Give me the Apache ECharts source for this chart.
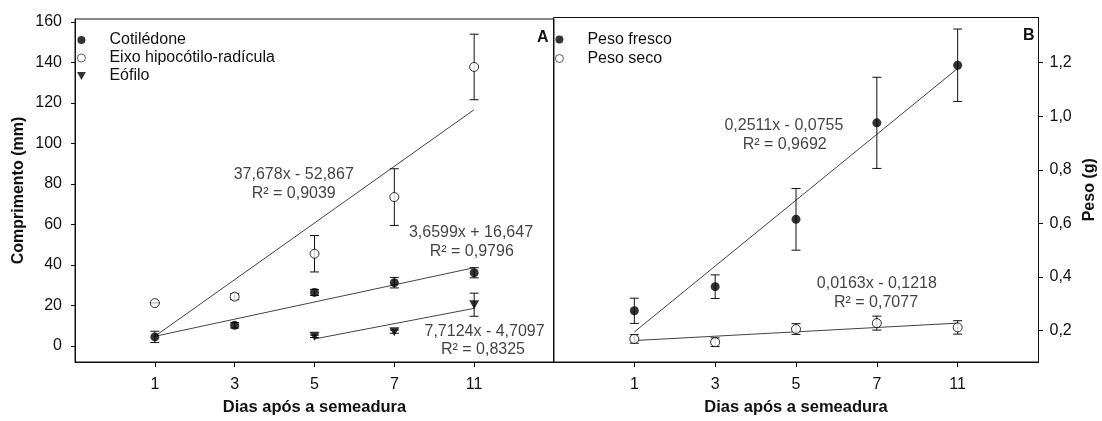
<!DOCTYPE html>
<html>
<head>
<meta charset="utf-8">
<script src="https://cdn.jsdelivr.net/npm/echarts@6/dist/echarts.min.js"></script>
<style>
html,body{margin:0;padding:0;background:#fff;}
#chart{width:1102px;height:421px;}
</style>
</head>
<body>
<div id="chart"></div>
<script>
// ---- data ----
const days = ['1', '3', '5', '7', '11'];
const yTicksA = [0, 20, 40, 60, 80, 100, 120, 140, 160];
const yTicksB = [0.2, 0.4, 0.6, 0.8, 1.0, 1.2];

// Panel A: Comprimento (mm)
const cotiledone = [4.4, 10.1, 26.4, 31.2, 36.1];
const cotiledoneErr = [2.8, 1.3, 1.5, 2.6, 2.5];
const eixo = [21.1, 24.3, 45.5, 73.5, 137.8];
const eixoErr = [0.3, 1.5, 9.0, 14.0, 16.2];
const eofilo = [null, null, 4.7, 7.0, 20.3];
const eofiloErr = [null, null, 0.6, 0.8, 5.7];
const trendEixo = [[0, 4.7], [4, 116.7]];
const trendCot = [[0, 4.7], [4, 38.6]];
const trendEof = [[2, 3.4], [4, 18.5]];

// Panel B: Peso (g)
const pesoFresco = [0.274, 0.364, 0.615, 0.975, 1.19];
const pesoFrescoErr = [0.047, 0.044, 0.115, 0.17, 0.135];
const pesoSeco = [0.169, 0.157, 0.206, 0.228, 0.212];
const pesoSecoErr = [0.016, 0.016, 0.02, 0.026, 0.025];
const trendFresco = [[0, 0.195], [4, 1.178]];
const trendSeco = [[0, 0.163], [4, 0.228]];

// Equation annotations [x index, y value, text]
const annotA = [
  [1.74, 84.5, '37,678x - 52,867'],
  [1.74, 75.4, 'R² = 0,9039'],
  [3.96, 56.0, '3,6599x + 16,647'],
  [3.97, 46.8, 'R² = 0,9796'],
  [4.13, 7.2, '7,7124x - 4,7097'],
  [4.11, -1.8, 'R² = 0,8325']
];
const annotB = [
  [1.85, 0.963, '0,2511x - 0,0755'],
  [1.86, 0.893, 'R² = 0,9692'],
  [3.0, 0.375, '0,0163x - 0,1218'],
  [2.99, 0.305, 'R² = 0,7077']
];

// ---- chart ----
const FONT = "'Liberation Sans', Arial, sans-serif";
const chart = echarts.init(document.getElementById('chart'), null, {renderer: 'canvas'});

function pts(values) {
  return values.map((v, i) => v == null ? null : [i, v]).filter(d => d);
}
function errData(values, errs) {
  return values.map((v, i) => v == null ? null : [i, v - errs[i], v + errs[i]]).filter(d => d);
}
function errSeries(xi, yi, values, errs) {
  return {
    type: 'custom', xAxisIndex: xi, yAxisIndex: yi, z: 3, silent: true,
    data: errData(values, errs),
    renderItem: function (params, api) {
      const x = api.value(0);
      const lo = api.coord([x, api.value(1)]);
      const hi = api.coord([x, api.value(2)]);
      const hw = 4.5;
      const st = {stroke: '#111', lineWidth: 1};
      return {type: 'group', children: [
        {type: 'line', shape: {x1: lo[0], y1: lo[1], x2: hi[0], y2: hi[1]}, style: st},
        {type: 'line', shape: {x1: lo[0] - hw, y1: lo[1], x2: lo[0] + hw, y2: lo[1]}, style: st},
        {type: 'line', shape: {x1: hi[0] - hw, y1: hi[1], x2: hi[0] + hw, y2: hi[1]}, style: st}
      ]};
    }
  };
}
function trendSeries(xi, yi, data) {
  return {type: 'line', xAxisIndex: xi, yAxisIndex: yi, data: data, showSymbol: false, symbol: 'none',
    silent: true, z: 2, lineStyle: {color: '#444', width: 1}};
}
function annotSeries(xi, yi, data) {
  return {type: 'scatter', xAxisIndex: xi, yAxisIndex: yi, data: data, symbolSize: 0, silent: true, z: 5,
    label: {show: true, position: 'inside', formatter: p => p.value[2], color: '#111',
      fontSize: 16, fontFamily: FONT}};
}
const xLabelFmt = v => days[Math.round(v)];
function xAxisCfg(gi) {
  return {
    gridIndex: gi, type: 'value', min: -1, max: 5,
    name: 'Dias após a semeadura', nameLocation: 'middle', nameGap: 37,
    nameTextStyle: {fontFamily: FONT, fontSize: 16.5, fontWeight: 'bold', color: '#111'},
    axisLine: {show: true, onZero: false, lineStyle: {color: '#111', width: 1}},
    axisTick: {show: true, length: 5, customValues: [0, 1, 2, 3, 4], lineStyle: {color: '#111'}},
    axisLabel: {customValues: [0, 1, 2, 3, 4], formatter: xLabelFmt, margin: 15,
      fontFamily: FONT, fontSize: 16, color: '#111'},
    splitLine: {show: false}
  };
}

const option = {
  animation: false,
  backgroundColor: '#fff',
  title: [
    {text: 'A', left: 532, top: 25, textStyle: {fontFamily: FONT, fontSize: 16, fontWeight: 'bold', color: '#111'}},
    {text: 'B', left: 1018, top: 23, textStyle: {fontFamily: FONT, fontSize: 16, fontWeight: 'bold', color: '#111'}}
  ],
  legend: [
    {left: 72, top: 26, orient: 'vertical', itemWidth: 46, itemHeight: 8, itemGap: 0, selectedMode: false,
      textStyle: {fontFamily: FONT, fontSize: 16, color: '#111', lineHeight: 18},
      data: [
        {name: 'Cotilédone', icon: 'circle'},
        {name: 'Eixo hipocótilo-radícula', icon: 'circle', itemStyle: {borderWidth: 0.8}},
        {name: 'Eófilo', icon: 'path://M0,0 L10,0 L5,9 Z'}
      ]},
    {left: 550, top: 25.5, orient: 'vertical', itemWidth: 46, itemHeight: 8, itemGap: 1, selectedMode: false,
      textStyle: {fontFamily: FONT, fontSize: 16, color: '#111', lineHeight: 18},
      data: [
        {name: 'Peso fresco', icon: 'circle'},
        {name: 'Peso seco', icon: 'circle', itemStyle: {borderWidth: 0.8}}
      ]}
  ],
  grid: [
    {left: 75, top: 19, width: 479, height: 346, show: true, borderColor: '#111', borderWidth: 1, backgroundColor: 'transparent'},
    {left: 553.5, top: 17.5, width: 485, height: 347, show: true, borderColor: '#111', borderWidth: 1, backgroundColor: 'transparent'}
  ],
  xAxis: [xAxisCfg(0), xAxisCfg(1)],
  yAxis: [
    {gridIndex: 0, type: 'value', min: -8, max: 161.5, position: 'left',
      name: 'Comprimento (mm)', nameLocation: 'middle', nameGap: 48,
      nameTextStyle: {fontFamily: FONT, fontSize: 16, fontWeight: 'bold', color: '#111'},
      axisLine: {show: true, onZero: false, lineStyle: {color: '#111'}},
      axisTick: {show: true, length: 4, customValues: yTicksA, lineStyle: {color: '#111'}},
      axisLabel: {customValues: yTicksA, margin: 13, fontFamily: FONT, fontSize: 16, color: '#111'},
      splitLine: {show: false}},
    {gridIndex: 1, type: 'value', min: 0.083, max: 1.368, position: 'right',
      name: 'Peso (g)', nameLocation: 'middle', nameGap: 43,
      nameTextStyle: {fontFamily: FONT, fontSize: 16, fontWeight: 'bold', color: '#111'},
      axisLine: {show: true, onZero: false, lineStyle: {color: '#111'}},
      axisTick: {show: true, length: 4.5, customValues: yTicksB, lineStyle: {color: '#111'}},
      axisLabel: {customValues: yTicksB, margin: 11, formatter: v => v.toFixed(1).replace('.', ','),
        fontFamily: FONT, fontSize: 16, color: '#111'},
      splitLine: {show: false}}
  ],
  series: [
    trendSeries(0, 0, trendEixo),
    trendSeries(0, 0, trendCot),
    trendSeries(0, 0, trendEof),
    errSeries(0, 0, cotiledone, cotiledoneErr),
    errSeries(0, 0, eixo, eixoErr),
    errSeries(0, 0, eofilo, eofiloErr),
    {name: 'Cotilédone', type: 'scatter', xAxisIndex: 0, yAxisIndex: 0, data: pts(cotiledone),
      symbol: 'circle', symbolSize: 9, z: 4, itemStyle: {color: '#000'}},
    {name: 'Eixo hipocótilo-radícula', type: 'scatter', xAxisIndex: 0, yAxisIndex: 0, data: pts(eixo),
      symbol: 'circle', symbolSize: 9, z: 4, itemStyle: {color: '#fff', borderColor: '#000', borderWidth: 1}},
    {name: 'Eófilo', type: 'scatter', xAxisIndex: 0, yAxisIndex: 0, data: pts(eofilo),
      symbol: 'triangle', symbolRotate: 180, symbolSize: [10, 9], z: 4, itemStyle: {color: '#000'}},
    annotSeries(0, 0, annotA),

    trendSeries(1, 1, trendFresco),
    trendSeries(1, 1, trendSeco),
    errSeries(1, 1, pesoFresco, pesoFrescoErr),
    errSeries(1, 1, pesoSeco, pesoSecoErr),
    {name: 'Peso fresco', type: 'scatter', xAxisIndex: 1, yAxisIndex: 1, data: pts(pesoFresco),
      symbol: 'circle', symbolSize: 9, z: 4, itemStyle: {color: '#000'}},
    {name: 'Peso seco', type: 'scatter', xAxisIndex: 1, yAxisIndex: 1, data: pts(pesoSeco),
      symbol: 'circle', symbolSize: 9, z: 4, itemStyle: {color: '#fff', borderColor: '#000', borderWidth: 1}},
    annotSeries(1, 1, annotB)
  ]
};
chart.setOption(option);
</script>
</body>
</html>
